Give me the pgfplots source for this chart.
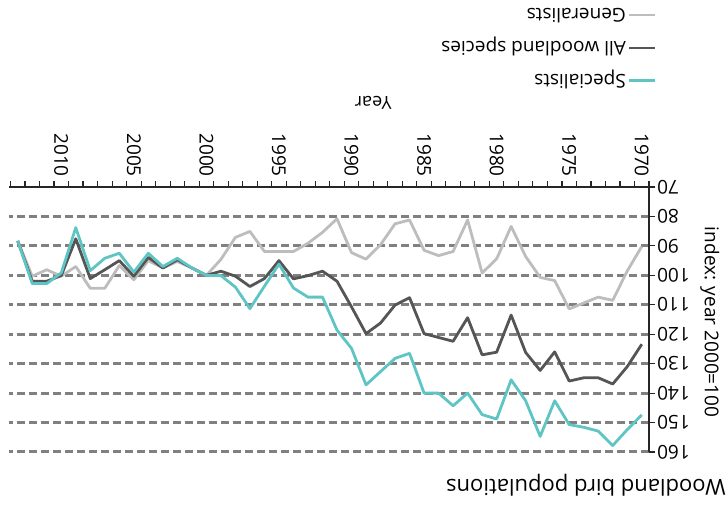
\documentclass[border=0pt]{standalone}
\usepackage{fontspec}
\setmainfont{Open Sans}
\usepackage{pgfplots}
\pgfplotsset{compat=1.18}
\definecolor{specc}{HTML}{5EC4C4}
\definecolor{allc}{HTML}{555555}
\definecolor{genc}{HTML}{BDBDBD}
\definecolor{gridc}{HTML}{808080}
\begin{document}
\begin{tikzpicture}
\begin{axis}[
  scale only axis, width=640pt, height=265pt,
  x dir=reverse, y dir=reverse,
  xmin=1969.5, xmax=2013.6, ymin=70, ymax=160,
  axis x line*=top, axis y line*=right,
  axis line style={line width=1.2pt, color=black!85, -},
  tick style={line width=1.1pt, color=black!85},
  tick align=outside,
  major tick length=6pt, minor tick length=6pt,
  xtick={1970,1975,...,2010},
  major x tick style={draw=none},
  minor xtick={1969.5,1970.5,...,2013.5},
  ytick={80,90,...,160},
  extra y ticks={70}, extra y tick style={grid=none},
  ymajorgrids,
  major grid style={dash pattern=on 8pt off 4pt, line width=3pt, color=gridc},
  /pgf/number format/assume math mode=true,
  /pgf/number format/1000 sep={},
  ticklabel style={font=\fontsize{19}{21}\selectfont},
  xticklabel style={rotate=-90, anchor=east, inner sep=4pt},
  yticklabel style={rotate=180, anchor=east, inner sep=2pt},
  xlabel={Year},
  xlabel style={rotate=180, font=\fontsize{18}{20}\selectfont, at={(axis description cs:0.569,1.317)}, anchor=center},
  ylabel={index: year 2000=100},
  ylabel style={rotate=180, font=\fontsize{19}{21}\selectfont, at={(axis description cs:1.095,0.49)}, anchor=center},
  title={Woodland bird populations},
  title style={rotate=180, font=\fontsize{22}{25}\selectfont, inner sep=0pt, at={(axis description cs:1.12,-0.128)}, anchor=base west},
  legend style={nodes={rotate=180}, draw=none, fill=none, font=\fontsize{19}{21}\selectfont, at={(axis description cs:1.017,1.695)}, anchor=north east, row sep=13pt},
  legend cell align=left,
  legend plot pos=right,
  legend image code/.code={\draw[#1] (0pt,0pt) -- (26pt,0pt);},
  clip=false,
]
\path (axis description cs:-0.0141,1.7057) rectangle (axis description cs:1.1234,-0.2151);
\addplot[genc, line width=2.8pt, line join=round] coordinates {
(1970,90.2) (1971,98.5) (1972,108.5) (1973,107.4) (1974,109.4) (1975,111.4)
(1976,101.8) (1977,100.7) (1978,93.6) (1979,83.4) (1980,94.4) (1981,99.2)
(1982,81.2) (1983,91.9) (1984,93.3) (1985,91.5) (1986,81.2) (1987,82.5)
(1988,89.6) (1989,94.5) (1990,92.3) (1991,80.8) (1992,85.4) (1993,89.1)
(1994,91.9) (1995,91.9) (1996,91.9) (1997,85.1) (1998,87.1) (1999,94.6)
(2000,100) (2001,97.5) (2002,95.3) (2003,97.5) (2004,95) (2005,101.5)
(2006,96.7) (2007,104.4) (2008,104.4) (2009,97) (2010,100.3) (2011,98.1)
(2012,100.3) (2013,88.3)
};
\addlegendentry{Generalists}
\addplot[allc, line width=2.8pt, line join=round] coordinates {
(1970,123.4) (1971,131) (1972,136.9) (1973,134.8) (1974,134.8) (1975,135.9)
(1976,126) (1977,132.3) (1978,126.2) (1979,113.5) (1980,126.1) (1981,127)
(1982,114.4) (1983,122.4) (1984,121.1) (1985,119.8) (1986,107.6) (1987,110.1)
(1988,116.2) (1989,119.8) (1990,110.7) (1991,102) (1992,98.6) (1993,100.1)
(1994,101.2) (1995,95) (1996,101.1) (1997,103.8) (1998,100.3) (1999,98.6)
(2000,100) (2001,97.5) (2002,94.7) (2003,97.5) (2004,93.9) (2005,100.3)
(2006,95) (2007,98.1) (2008,101.1) (2009,87.6) (2010,100.1) (2011,102)
(2012,102) (2013,88.3)
};
\addlegendentry{All woodland species}
\addplot[specc, line width=2.8pt, line join=round] coordinates {
(1970,147.4) (1971,152.4) (1972,157.8) (1973,152.9) (1974,151.6) (1975,150.7)
(1976,142.6) (1977,154.7) (1978,142.6) (1979,135.5) (1980,148.8) (1981,147.3)
(1982,140) (1983,144.3) (1984,140) (1985,140) (1986,126.5) (1987,128.2)
(1988,132.7) (1989,137.2) (1990,124.8) (1991,118.6) (1992,107.4) (1993,107.4)
(1994,104.3) (1995,96.2) (1996,103.7) (1997,111.3) (1998,104) (1999,100.1)
(2000,100) (2001,97.5) (2002,94.2) (2003,97) (2004,92.5) (2005,98.9)
(2006,92.5) (2007,94.2) (2008,98.4) (2009,83.8) (2010,99.2) (2011,102.8)
(2012,102.8) (2013,88.3)
};
\addlegendentry{Specialists}
\end{axis}
\end{tikzpicture}
\end{document}
